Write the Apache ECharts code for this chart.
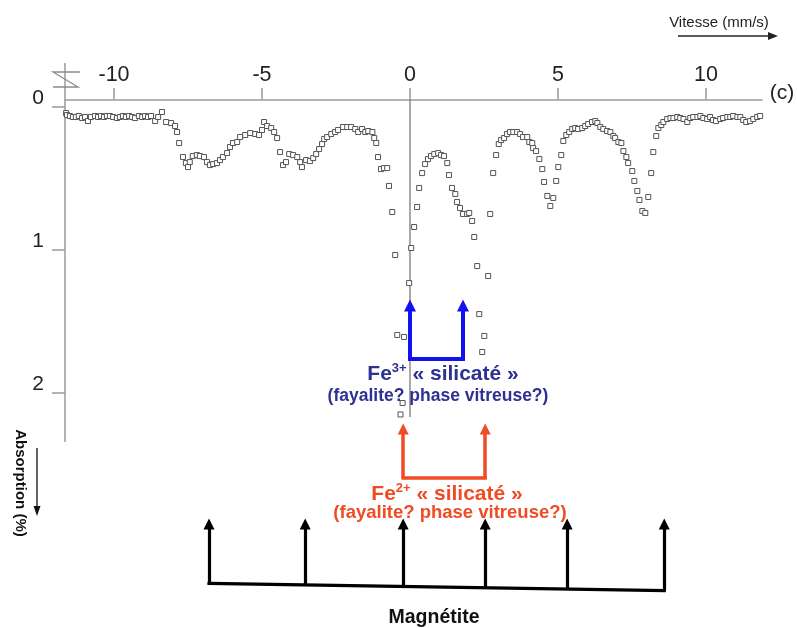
<!DOCTYPE html>
<html><head><meta charset="utf-8">
<script src="https://cdn.jsdelivr.net/npm/echarts@6/dist/echarts.min.js"></script>
<style>html,body{margin:0;padding:0;background:#fff}#c{width:797px;height:628px}</style>
</head><body><div id="c"></div>
<script>
// Velocity (mm/s) of each measured channel
const velocity = [
-11.62,-11.59,-11.49,-11.39,-11.29,-11.19,-11.08,-10.98,-10.88,-10.78,-10.64,-10.54,-10.44,-10.34,-10.24,-10.14,-10.03,-9.90,-9.80,-9.70,-9.60,-9.49,-9.39,-9.29,-9.16,-9.05,-8.95,-8.85,-8.75,-8.61,-8.51,
-8.38,-8.24,-8.07,-7.94,-7.87,-7.80,-7.67,-7.57,-7.50,-7.44,-7.34,-7.20,-7.10,-6.96,-6.86,-6.76,-6.65,-6.52,-6.42,-6.32,-6.18,-6.08,-5.98,-5.84,-5.74,-5.57,-5.40,-5.23,-5.10,-5.00,
-4.93,-4.83,-4.69,-4.59,-4.49,-4.39,-4.29,-4.19,-4.08,-3.95,-3.81,-3.71,-3.65,-3.51,-3.38,-3.27,-3.17,-3.07,-2.97,-2.90,-2.80,-2.66,-2.53,-2.43,-2.26,-2.12,-1.99,-1.85,-1.75,-1.62,-1.51,-1.41,-1.27,-1.21,-1.14,-1.08,-0.98,-0.88,-0.77,-0.71,-0.60,-0.50,-0.43,-0.32,-0.25,-0.20,-0.03,
0.04,0.14,0.24,0.31,0.41,0.51,0.61,0.71,0.82,0.95,1.05,1.15,1.26,1.32,1.42,1.53,1.59,1.69,1.79,1.93,2.00,2.10,2.17,2.27,2.34,2.44,2.51,2.64,2.71,2.81,2.91,3.00,
3.08,3.18,3.28,3.38,3.49,3.62,3.72,3.82,3.96,4.03,4.13,4.16,4.26,4.37,4.47,4.53,4.64,4.74,4.84,4.94,5.01,5.11,5.18,5.28,5.38,5.48,5.58,5.68,5.82,5.92,6.02,6.15,6.26,6.33,
6.43,6.53,6.66,6.77,6.87,6.93,7.04,7.14,7.21,7.31,7.37,7.51,7.58,7.68,7.75,7.85,7.95,8.05,8.15,8.22,8.32,8.39,8.49,8.56,8.69,8.80,
8.90,9.03,9.13,9.24,9.37,9.47,9.57,9.71,9.81,9.91,10.04,10.14,10.24,10.34,10.48,10.58,10.72,10.82,10.92,11.06,11.16,11.26,11.36,11.49,11.60,11.73,11.83
];
// Absorption (%) of each channel
const absorption = [
0.042,0.056,0.063,0.070,0.070,0.063,0.077,0.070,0.098,0.070,0.063,0.070,0.063,0.070,0.063,0.063,0.070,0.077,0.070,0.063,0.070,0.063,0.070,0.077,0.063,0.070,0.063,0.070,0.063,0.098,0.070,
0.035,0.105,0.112,0.133,0.175,0.252,0.350,0.392,0.420,0.385,0.343,0.336,0.343,0.350,0.385,0.406,0.399,0.392,0.371,0.350,0.322,0.280,0.252,0.245,0.210,0.196,0.182,0.189,0.196,0.161,
0.105,0.133,0.147,0.175,0.217,0.315,0.406,0.385,0.329,0.336,0.350,0.385,0.420,0.371,0.378,0.357,0.329,0.294,0.259,0.224,0.210,0.189,0.175,0.161,0.140,0.140,0.140,0.154,0.175,0.154,0.175,0.168,0.175,0.217,0.252,0.350,0.434,0.427,0.427,0.552,0.734,1.035,1.594,2.150,2.070,1.608,1.231,
0.986,0.839,0.699,0.566,0.462,0.399,0.364,0.343,0.329,0.322,0.336,0.343,0.392,0.476,0.566,0.608,0.664,0.706,0.748,0.748,0.741,0.797,0.909,1.112,1.448,1.713,1.601,1.182,0.748,0.462,0.336,0.259,
0.231,0.217,0.189,0.175,0.175,0.175,0.189,0.210,0.210,0.245,0.252,0.287,0.308,0.364,0.434,0.524,0.622,0.692,0.636,0.517,0.420,0.336,0.238,0.196,0.175,0.154,0.147,0.154,0.147,0.133,0.119,0.105,0.098,0.112,
0.140,0.154,0.168,0.175,0.203,0.217,0.245,0.252,0.308,0.350,0.392,0.448,0.517,0.587,0.650,0.727,0.741,0.629,0.462,0.315,0.203,0.147,0.126,0.105,0.084,0.077,
0.077,0.070,0.077,0.084,0.105,0.077,0.070,0.070,0.063,0.077,0.084,0.070,0.091,0.098,0.084,0.077,0.070,0.070,0.063,0.070,0.070,0.091,0.105,0.098,0.084,0.070,0.063
];
const velocityTicks = [-10, -5, 0, 5, 10];
const absorptionTicks = [0, 1, 2];
// Line positions (mm/s) of the annotated sub-spectra
const magnetiteLines = [-6.79, -3.54, -0.23, 2.54, 5.31, 8.59];
const fe3Lines = [0.0, 1.79];
const fe2Lines = [-0.23, 2.54];

const FONT = '"Liberation Sans", Arial, sans-serif';
const X_MIN = -11.656, X_MAX = 11.893;
const Y_MIN = -0.3077, Y_MAX = 3.643;

const BLUE = '#1212ee', NAVY = '#2e3192', RED = '#ef4b24', BLACK = '#000';

function arrows(xs, yBaseFn, yTip) {
  return xs.map(x => ({ coords: [[x, yBaseFn(x)], [x, yTip]] }));
}
function arrowSeries(data, color, width, size) {
  return { type: 'lines', coordinateSystem: 'cartesian2d', data: data, symbol: ['none', 'triangle'],
    symbolSize: size, lineStyle: { color: color, width: width, opacity: 1, curveness: 0 }, z: 5, silent: true };
}
function barSeries(data, color, width) {
  return { type: 'lines', coordinateSystem: 'cartesian2d', data: data, symbol: 'none',
    lineStyle: { color: color, width: width, opacity: 1, cap: 'square' }, z: 5, silent: true };
}

const fe3Base = 1.762, fe3Tip = 1.388;
const fe2Base = 2.592, fe2Tip = 2.252;
const magTip = 2.916;
const magX0 = magnetiteLines[0], magX1 = magnetiteLines[magnetiteLines.length - 1];
const magBase = x => 3.331 + (x - magX0) / (magX1 - magX0) * 0.051;

const chart = echarts.init(document.getElementById('c'));
chart.setOption({
  animation: false,
  backgroundColor: '#fff',
  grid: { left: 65, right: 35, top: 63, bottom: 0, containLabel: false },
  xAxis: {
    type: 'value', position: 'top', offset: -37, min: X_MIN, max: X_MAX,
    axisLine: { show: true, onZero: false, lineStyle: { color: '#9a9a9a', width: 1.5 } },
    axisTick: { show: true, inside: false, length: 12, customValues: velocityTicks, lineStyle: { color: '#9a9a9a', width: 1.5 } },
    axisLabel: { show: true, customValues: velocityTicks, margin: 14, fontSize: 21.5, fontFamily: FONT, color: '#222',
      formatter: v => String(v) },
    splitLine: { show: false }
  },
  yAxis: {
    type: 'value', inverse: true, min: Y_MIN, max: Y_MAX, position: 'left',
    axisLine: { show: false, onZero: false },
    axisTick: { show: true, length: 13, customValues: absorptionTicks, lineStyle: { color: '#9a9a9a', width: 1.5 } },
    axisLabel: { show: true, customValues: absorptionTicks, margin: 21, fontSize: 21, fontFamily: FONT, color: '#222',
      verticalAlign: 'bottom', lineHeight: 17, formatter: v => String(v) },
    splitLine: { show: false }
  },
  graphic: [
    { type: 'line', shape: { x1: 65, y1: 63, x2: 65, y2: 442 }, style: { stroke: '#9a9a9a', lineWidth: 1.5 }, z: 1 },
    { type: 'polyline', shape: { points: [[80, 72], [53, 72], [78, 87], [53, 87]] }, style: { stroke: '#8a8a8a', lineWidth: 1.3, fill: null }, z: 2 },
    { type: 'text', x: 719, y: 23, style: { text: 'Vitesse (mm/s)', font: '15px ' + FONT, fill: '#222', align: 'center', verticalAlign: 'middle' } },
    { type: 'line', shape: { x1: 678, y1: 36, x2: 770, y2: 36 }, style: { stroke: '#222', lineWidth: 1.3 } },
    { type: 'polygon', shape: { points: [[778, 36], [768, 32], [768, 40]] }, style: { fill: '#222' } },
    { type: 'text', x: 782, y: 93, style: { text: '(c)', font: '21px ' + FONT, fill: '#222', align: 'center', verticalAlign: 'middle' } },
    { type: 'text', x: 20, y: 483, rotation: -Math.PI / 2, style: { text: 'Absorption (%)', font: 'bold 15px ' + FONT, fill: '#111', align: 'center', verticalAlign: 'middle' } },
    { type: 'line', shape: { x1: 37, y1: 448, x2: 37, y2: 508 }, style: { stroke: '#111', lineWidth: 1.3 } },
    { type: 'polygon', shape: { points: [[37, 516], [33.5, 506], [40.5, 506]] }, style: { fill: '#111' } },
    { type: 'text', x: 443, y: 374, z: 10, style: {
        text: '{b|Fe}{s|3+}{b| « silicaté »}', align: 'center', verticalAlign: 'middle',
        rich: { b: { font: 'bold 21px ' + FONT, fill: NAVY, lineHeight: 24 }, s: { font: 'bold 13px ' + FONT, fill: NAVY, verticalAlign: 'top', padding: [0, 0, 8, 0] } } } },
    { type: 'text', x: 438, y: 396, z: 10, style: { text: '(fayalite? phase vitreuse?)', font: 'bold 17.5px ' + FONT, fill: NAVY, align: 'center', verticalAlign: 'middle' } },
    { type: 'text', x: 447, y: 494, z: 10, style: {
        text: '{b|Fe}{s|2+}{b| « silicaté »}', align: 'center', verticalAlign: 'middle',
        rich: { b: { font: 'bold 21px ' + FONT, fill: RED, lineHeight: 24 }, s: { font: 'bold 13px ' + FONT, fill: RED, verticalAlign: 'top', padding: [0, 0, 8, 0] } } } },
    { type: 'text', x: 450, y: 513, z: 10, style: { text: '(fayalite? phase vitreuse?)', font: 'bold 18.5px ' + FONT, fill: RED, align: 'center', verticalAlign: 'middle' } },
    { type: 'text', x: 434, y: 618, z: 10, style: { text: 'Magnétite', font: 'bold 19.5px ' + FONT, fill: '#111', align: 'center', verticalAlign: 'middle' } }
  ],
  series: [
    { type: 'line', data: [[0, -0.049], [0, 2.168]], symbol: 'none', silent: true, z: 2,
      lineStyle: { color: '#555', width: 1 } },
    { type: 'scatter', data: velocity.map((v, i) => [v, absorption[i]]), symbol: 'rect', symbolSize: 5, clip: false, z: 3,
      itemStyle: { color: '#fff', borderColor: '#555', borderWidth: 1, opacity: 1 } },
    arrowSeries(arrows(fe3Lines, () => fe3Base, fe3Tip), BLUE, 4, 12),
    barSeries([{ coords: [[fe3Lines[0], fe3Base], [fe3Lines[1], fe3Base]] }], BLUE, 4),
    arrowSeries(arrows(fe2Lines, () => fe2Base, fe2Tip), RED, 3.5, 11),
    barSeries([{ coords: [[fe2Lines[0], fe2Base], [fe2Lines[1], fe2Base]] }], RED, 3.5),
    arrowSeries(arrows(magnetiteLines, magBase, magTip), BLACK, 3.2, 11),
    barSeries([{ coords: [[magX0, magBase(magX0)], [magX1, magBase(magX1)]] }], BLACK, 3.2)
  ]
});
</script></body></html>
